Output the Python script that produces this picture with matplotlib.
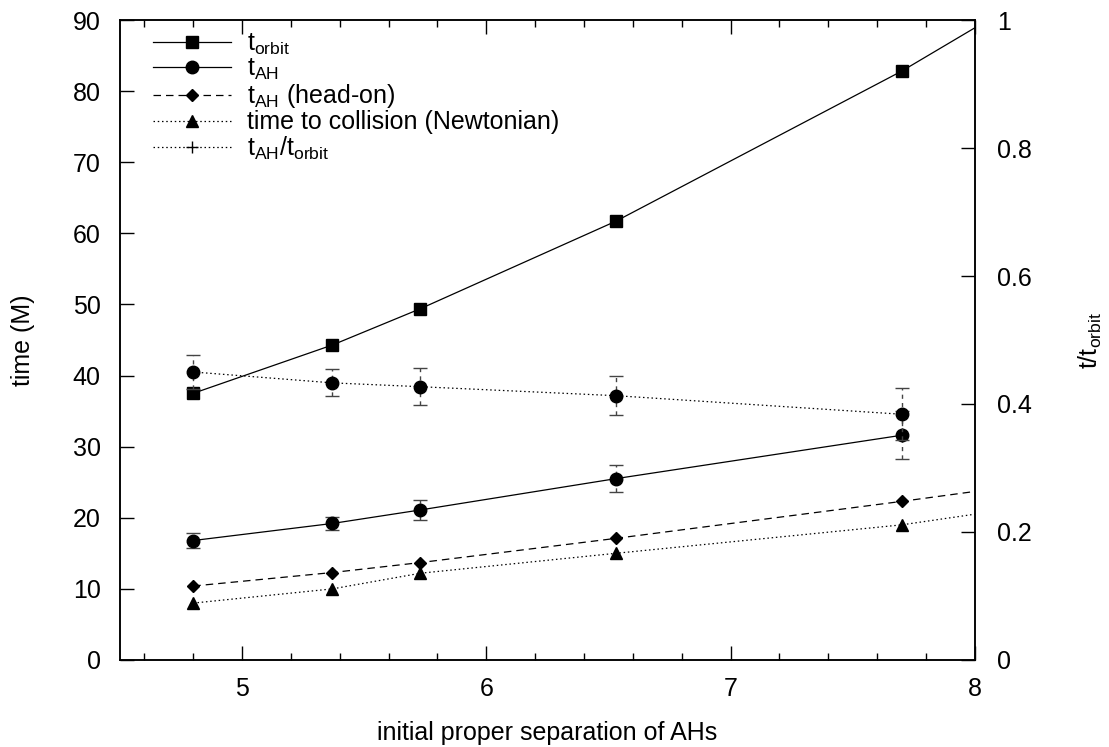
import matplotlib
matplotlib.use("Agg")
import matplotlib.pyplot as plt
from matplotlib.ticker import MultipleLocator
from matplotlib.lines import Line2D

FONT = "Liberation Sans"
plt.rcParams["font.family"] = [FONT, "DejaVu Sans"]
plt.rcParams["mathtext.fontset"] = "custom"
plt.rcParams["mathtext.rm"] = FONT
plt.rcParams["mathtext.it"] = FONT
plt.rcParams["mathtext.default"] = "regular"

# ---- data ----
separation = [4.8, 5.37, 5.73, 6.53, 7.7]
t_orbit = [37.5, 44.3, 49.4, 61.7, 82.8]
t_ah = [16.8, 19.2, 21.1, 25.5, 31.6]
t_ah_err = [1.0, 0.9, 1.4, 1.9, 3.4]
t_headon = [10.4, 12.3, 13.7, 17.1, 22.3]
t_newton = [8.0, 10.0, 12.2, 15.0, 19.0]
ratio = [0.450, 0.433, 0.427, 0.413, 0.384]
ratio_err = [0.027, 0.021, 0.029, 0.030, 0.041]

# curves extend to the right edge of the plot
curve_x = [4.8, 5.37, 5.73, 6.53, 7.7, 8.0]
orbit_curve = [37.5, 44.3, 49.4, 61.7, 82.8, 88.9]
headon_curve = [10.4, 12.3, 13.7, 17.1, 22.3, 23.7]
newton_curve = [8.0, 10.0, 12.2, 15.0, 19.0, 20.5]

labels = [r"t$_{orbit}$", r"t$_{AH}$", r"t$_{AH}$ (head-on)",
          "time to collision (Newtonian)", r"t$_{AH}$/t$_{orbit}$"]

FS = 18
fig = plt.figure(figsize=(11.09, 7.47), dpi=100)
ax = fig.add_axes([0.1082, 0.1165, 0.879 - 0.1082, 0.9732 - 0.1165])
ax2 = ax.twinx()

lw = 0.9
dashed = (0, (6, 4))
dotted = (0, (1.2, 2.2))

ax.plot(curve_x, orbit_curve, color="black", lw=lw, zorder=3)
ax.plot(separation, t_orbit, ls="none", marker="s", ms=9, color="black", zorder=4)

eb = ax.errorbar(separation, t_ah, yerr=t_ah_err, color="black", lw=lw, marker="o", ms=9,
                 ecolor="#444444", elinewidth=1.0, capsize=5, capthick=1.0, zorder=4)
for c in eb[2]:
    c.set_linestyle((0, (3, 3)))

ax.plot(curve_x, headon_curve, color="black", lw=lw, ls=dashed, zorder=3)
ax.plot(separation, t_headon, ls="none", marker="D", ms=6, color="black", zorder=4)

ax.plot(curve_x, newton_curve, color="black", lw=lw, ls=dotted, zorder=3)
ax.plot(separation, t_newton, ls="none", marker="^", ms=8, color="black", zorder=4)

eb2 = ax2.errorbar(separation, ratio, yerr=ratio_err, color="black", lw=lw, ls=dotted,
                   marker="o", ms=9, ecolor="#444444", elinewidth=1.0, capsize=5,
                   capthick=1.0, zorder=4)
for c in eb2[2]:
    c.set_linestyle((0, (3, 3)))

ax.set_xlim(4.5, 8)
ax.set_ylim(0, 90)
ax2.set_ylim(0, 1)

ax.xaxis.set_major_locator(MultipleLocator(1))
ax.xaxis.set_minor_locator(MultipleLocator(0.2))
ax.yaxis.set_major_locator(MultipleLocator(10))
ax2.set_yticks([0, 0.2, 0.4, 0.6, 0.8, 1.0])
ax2.set_yticklabels(["0", "0.2", "0.4", "0.6", "0.8", "1"])

ax.tick_params(axis="x", which="both", direction="in", top=True, bottom=True, labelsize=FS, pad=12)
ax.tick_params(axis="x", which="major", length=10, width=1.0)
ax.tick_params(axis="x", which="minor", length=5, width=1.0)
ax.tick_params(axis="y", which="major", direction="in", left=True, right=False, length=10,
               width=1.0, labelsize=FS, pad=14)
ax2.tick_params(axis="y", which="major", direction="in", right=True, left=False, length=10,
                width=1.0, labelsize=FS, pad=16)

for a in (ax, ax2):
    for s in a.spines.values():
        s.set_linewidth(1.1)

ax.set_xlabel("initial proper separation of AHs", fontsize=FS, labelpad=15)
ax.set_ylabel("time (M)", fontsize=FS, labelpad=27)
ax2.set_ylabel(r"t/t$_{orbit}$", fontsize=FS, labelpad=32)

handles = [
    Line2D([], [], color="black", lw=lw, marker="s", ms=9),
    Line2D([], [], color="black", lw=lw, marker="o", ms=9),
    Line2D([], [], color="black", lw=lw, ls=dashed, marker="D", ms=6),
    Line2D([], [], color="black", lw=lw, ls=dotted, marker="^", ms=8),
    Line2D([], [], color="black", lw=lw, ls=dotted, marker="+", ms=9, mew=1.0),
]
leg = ax2.legend(handles, labels, loc="upper left", bbox_to_anchor=(0.027, 0.997),
                 frameon=False, fontsize=FS, handlelength=3.1, handletextpad=0.64,
                 labelspacing=0.0, borderaxespad=0.0, borderpad=0.4)

fig.savefig("out.png", dpi=100)
